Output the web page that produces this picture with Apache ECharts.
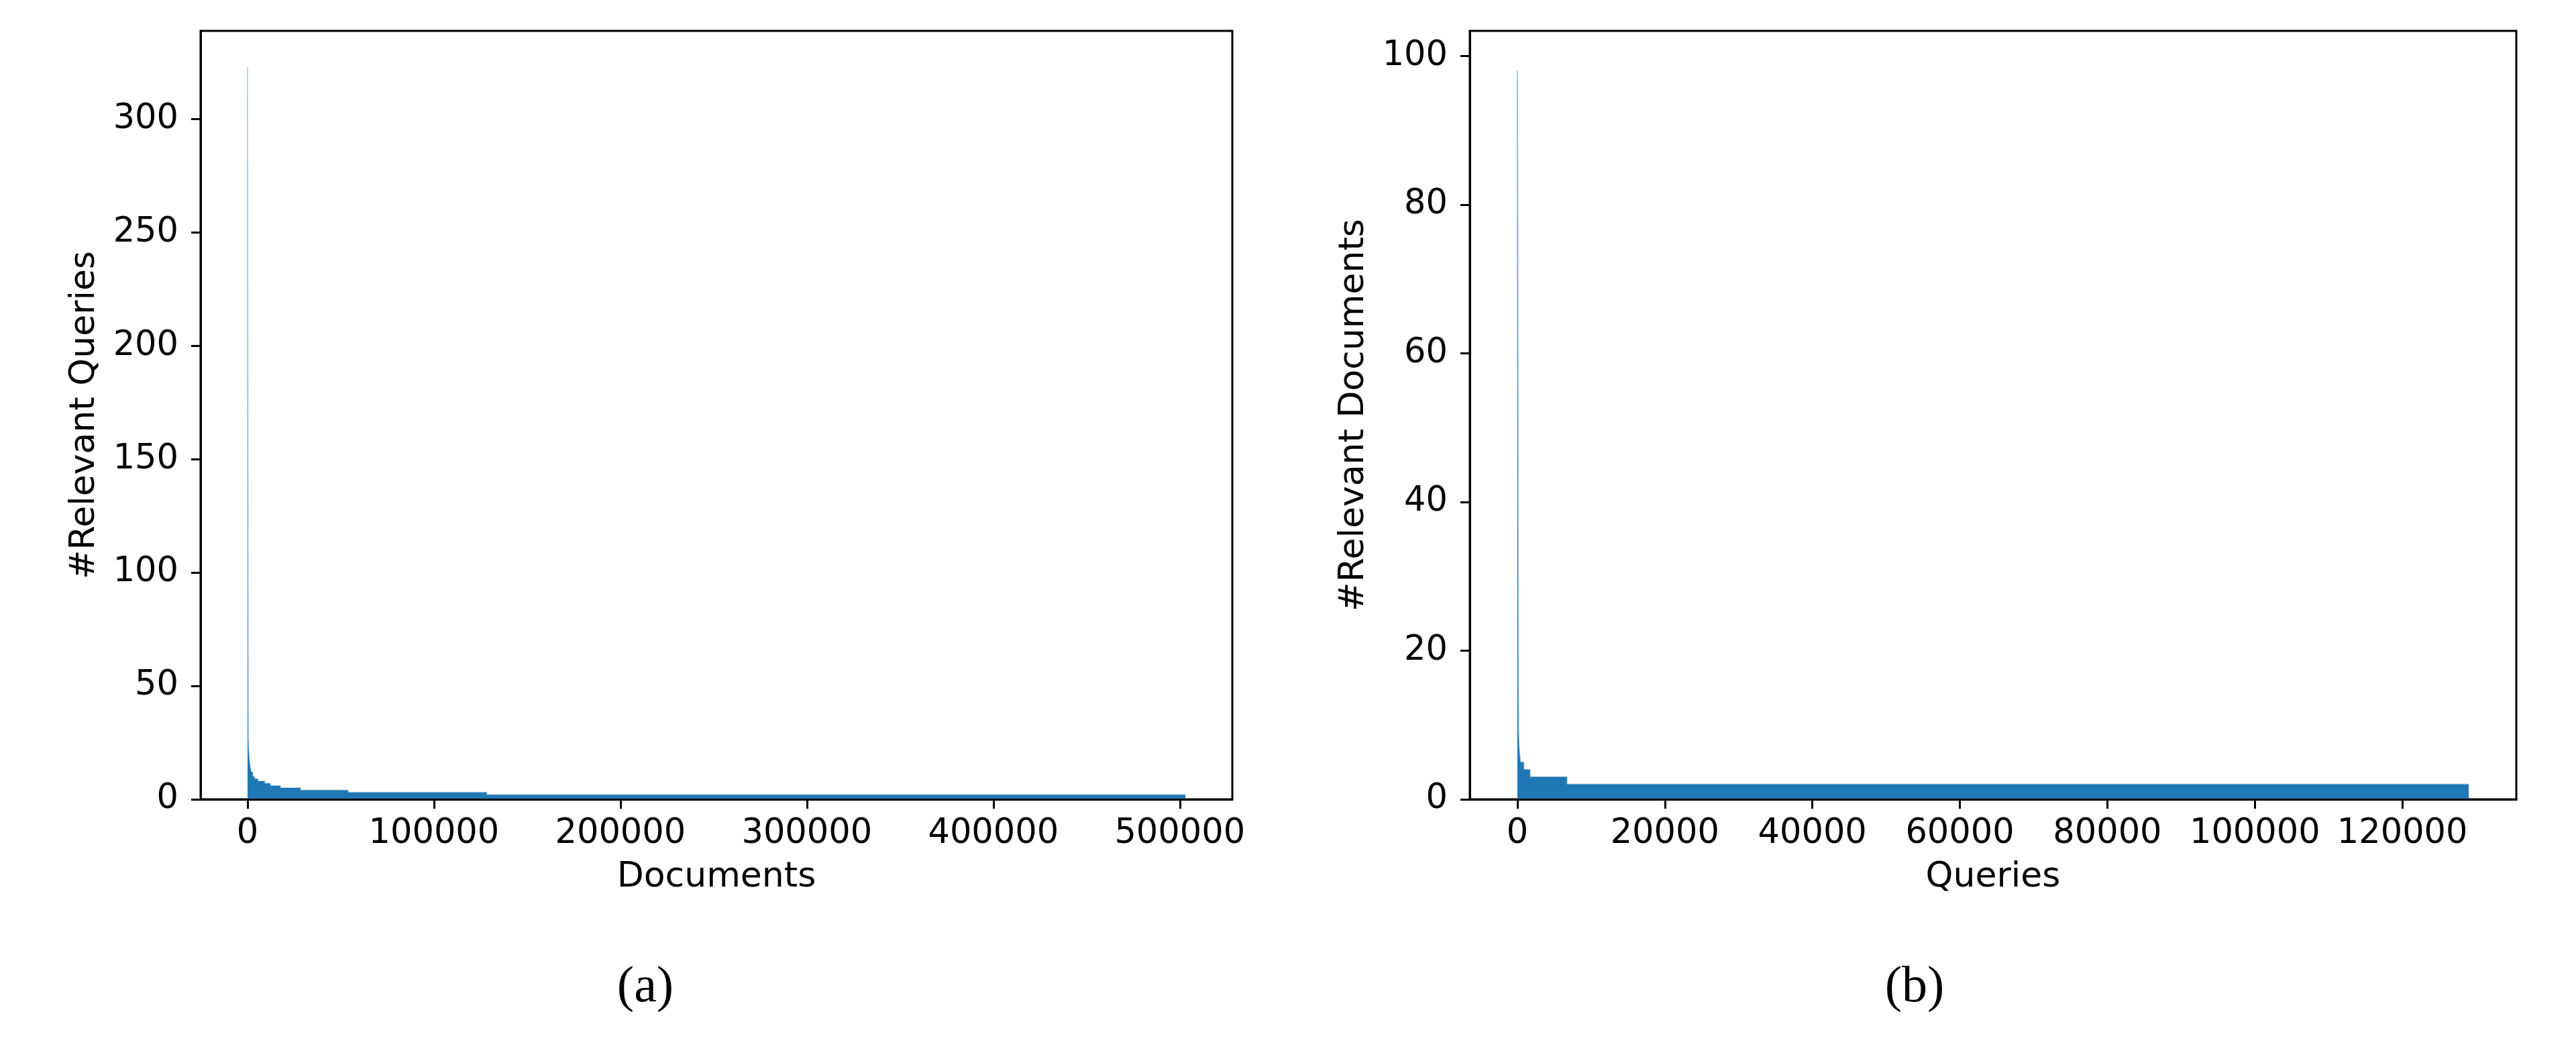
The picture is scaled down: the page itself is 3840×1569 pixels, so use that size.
<!DOCTYPE html>
<html>
	<head>
		<meta charset="UTF-8">
		<title>Relevant queries / documents</title>
		<script src="https://cdn.jsdelivr.net/npm/echarts/dist/echarts.min.js"></script>
		<style>
			html, body {
				margin: 0;
				padding: 0;
				background: #fff;
			}
			#chart {
				width: 3840px;
				height: 1569px;
			}
		</style>
	</head>
	<body>
		<div id="chart"></div>

		<script type="text/javascript">
			// (a) documents sorted by number of relevant queries: rank where a value starts, and the value
			var docRankStart = [0, 55, 90, 145, 200, 250, 330, 400, 600, 900, 1300, 2000, 2800, 3800, 5600, 9200, 12200, 17600, 28400, 53900, 128300];
			var docRelQueries = [323, 280, 230, 180, 130, 80, 45, 28, 22, 18, 15, 12, 10, 9, 8, 7, 6, 5, 4, 3, 2];
			var docTotal = 503000;

			// (b) queries sorted by number of relevant documents
			var queryRankStart = [0, 18, 32, 45, 60, 73, 82, 95, 115, 145, 220, 300, 400, 850, 1700, 6700];
			var queryRelDocs = [98, 88, 78, 68, 58, 48, 38, 25, 15, 9, 7, 6, 5, 4, 3, 2];
			var queryTotal = 129000;

			// tick labels
			var xTicksA = [0, 100000, 200000, 300000, 400000, 500000];
			var yTicksA = [0, 50, 100, 150, 200, 250, 300];
			var xTicksB = [0, 20000, 40000, 60000, 80000, 100000, 120000];
			var yTicksB = [0, 20, 40, 60, 80, 100];

			var blue = '#1f77b4';
			var tickFont = 'DejaVu Sans';

			// step series: each value holds until the next start, last one until the total
			function stepData(starts, values, total) {
				var out = [];
				for (var i = 0; i < starts.length; i++) {
					out.push([starts[i], values[i]]);
				}
				out.push([total, values[values.length - 1]]);
				return out;
			}

			function plain(v) {
				return String(v);
			}

			function xAxisOf(idx, name, ticks, total) {
				return {
					type: 'value',
					gridIndex: idx,
					min: -0.05 * total,
					max: 1.05 * total,
					name: name,
					nameLocation: 'middle',
					nameGap: 90,
					nameTextStyle: { fontFamily: tickFont, fontSize: 52, color: '#000' },
					z: 10,
					axisLine: { show: true, onZero: false, lineStyle: { color: '#000', width: 3 } },
					axisTick: { show: true, length: 14, customValues: ticks, lineStyle: { color: '#000', width: 3 } },
					axisLabel: { customValues: ticks, formatter: plain, margin: 26, fontFamily: tickFont, fontSize: 51, color: '#000' },
					splitLine: { show: false }
				};
			}

			function yAxisOf(idx, name, ticks, max) {
				return {
					type: 'value',
					gridIndex: idx,
					min: 0,
					max: max,
					name: name,
					nameLocation: 'middle',
					nameGap: 147,
					nameTextStyle: { fontFamily: tickFont, fontSize: 52, color: '#000' },
					z: 10,
					axisLine: { show: true, onZero: false, lineStyle: { color: '#000', width: 3 } },
					axisTick: { show: true, length: 14, customValues: ticks, lineStyle: { color: '#000', width: 3 } },
					axisLabel: { customValues: ticks, formatter: plain, margin: 33, fontFamily: tickFont, fontSize: 51, color: '#000' },
					splitLine: { show: false }
				};
			}

			function stepSeries(idx, data, edgeOpacity) {
				return {
					type: 'line',
					xAxisIndex: idx,
					yAxisIndex: idx,
					step: 'end',
					symbol: 'none',
					// thin soft edge so the narrow head shows like the blurred original
					lineStyle: { width: 2, color: blue, opacity: edgeOpacity },
					areaStyle: { color: blue, opacity: 1 },
					data: data
				};
			}

			var myChart = echarts.init(document.getElementById('chart'));

			myChart.setOption({
				animation: false,
				backgroundColor: '#fff',
				grid: [{
					left: 299, top: 46, width: 1538, height: 1145,
					show: true, borderColor: '#000', borderWidth: 3
				}, {
					left: 2191, top: 46, width: 1560, height: 1145,
					show: true, borderColor: '#000', borderWidth: 3
				}],
				xAxis: [
					xAxisOf(0, 'Documents', xTicksA, docTotal),
					xAxisOf(1, 'Queries', xTicksB, queryTotal)
				],
				yAxis: [
					yAxisOf(0, '#Relevant Queries', yTicksA, 339),
					yAxisOf(1, '#Relevant Documents', yTicksB, 103.4)
				],
				series: [
					stepSeries(0, stepData(docRankStart, docRelQueries, docTotal), 0.3),
					stepSeries(1, stepData(queryRankStart, queryRelDocs, queryTotal), 0.45)
				],
				graphic: [{
					type: 'text',
					x: 962, y: 1472,
					style: { text: '(a)', font: '76px "Liberation Serif"', fill: '#000', textAlign: 'center', textVerticalAlign: 'middle' }
				}, {
					type: 'text',
					x: 2854, y: 1472,
					style: { text: '(b)', font: '76px "Liberation Serif"', fill: '#000', textAlign: 'center', textVerticalAlign: 'middle' }
				}]
			});
		</script>
	</body>
</html>
